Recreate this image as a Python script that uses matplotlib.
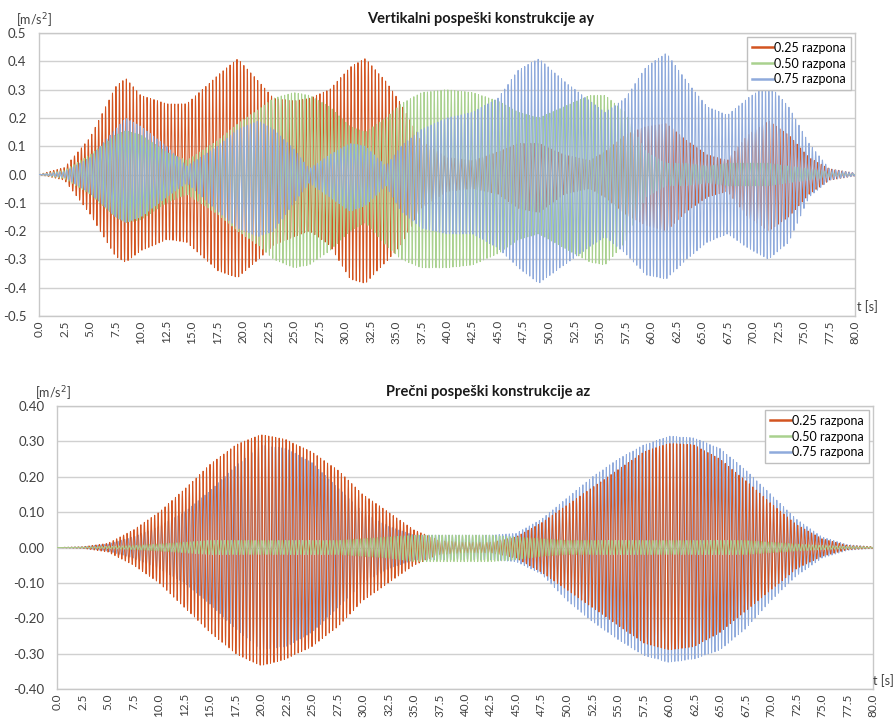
import numpy as np
import matplotlib.pyplot as plt
from matplotlib.ticker import MultipleLocator, FuncFormatter

plt.rcParams['font.family'] = ['Lato', 'DejaVu Sans']
plt.rcParams['axes.unicode_minus'] = False

labels = ['0.25 razpona', '0.50 razpona', '0.75 razpona']
colors = ['#D35420', '#A9D18E', '#8FAADC']
freqs = [2.95, 3.0, 3.05]   # nihajna frekvenca (Hz)

# Ovojnice vertikalnih pospeškov ay (čas v s, vrhovi v m/s2)
t_ay = np.array([0, 2.5, 5, 7.5, 8.5, 10, 12.5, 14.5, 17.5, 19.5, 21.5, 23, 25, 26.5,
                 28.5, 30.5, 32, 34, 35.5, 37.5, 40, 42.5, 45, 47, 49, 51.5, 54, 55.5,
                 57.5, 59.5, 61.5, 63.5, 65.5, 67.5, 69.5, 71.5, 73.5, 75.5, 77.5, 80])
ay_025_hi = [0, 0.025, 0.13, 0.31, 0.34, 0.28, 0.25, 0.25, 0.35, 0.41, 0.33, 0.27, 0.26, 0.27,
             0.30, 0.38, 0.41, 0.33, 0.25, 0.12, 0.06, 0.05, 0.08, 0.11, 0.11, 0.07, 0.05, 0.08,
             0.14, 0.17, 0.18, 0.12, 0.07, 0.05, 0.14, 0.19, 0.14, 0.06, 0.02, 0.005]
ay_025_lo = [0, -0.02, -0.14, -0.29, -0.31, -0.27, -0.23, -0.24, -0.34, -0.365, -0.30, -0.25, -0.22, -0.20,
             -0.25, -0.37, -0.385, -0.31, -0.25, -0.12, -0.06, -0.05, -0.07, -0.12, -0.135, -0.07, -0.05, -0.08,
             -0.14, -0.18, -0.20, -0.13, -0.08, -0.06, -0.15, -0.20, -0.15, -0.07, -0.02, -0.005]
ay_050_hi = [0, 0.015, 0.07, 0.14, 0.155, 0.14, 0.08, 0.05, 0.12, 0.18, 0.23, 0.27, 0.29, 0.28,
             0.24, 0.17, 0.15, 0.20, 0.25, 0.29, 0.30, 0.29, 0.26, 0.22, 0.20, 0.24, 0.28, 0.28,
             0.22, 0.08, 0.04, 0.04, 0.03, 0.04, 0.04, 0.04, 0.03, 0.02, 0.01, 0]
ay_050_lo = [0, -0.015, -0.07, -0.15, -0.17, -0.16, -0.10, -0.07, -0.14, -0.20, -0.25, -0.30, -0.33, -0.32,
             -0.27, -0.20, -0.17, -0.25, -0.30, -0.33, -0.33, -0.32, -0.28, -0.23, -0.21, -0.26, -0.31, -0.32,
             -0.24, -0.08, -0.04, -0.04, -0.03, -0.04, -0.04, -0.04, -0.03, -0.02, -0.01, 0]
ay_075_hi = [0, 0.01, 0.06, 0.16, 0.20, 0.17, 0.10, 0.03, 0.10, 0.16, 0.19, 0.16, 0.09, 0.02,
             0.07, 0.11, 0.10, 0.03, 0.10, 0.16, 0.20, 0.22, 0.27, 0.37, 0.41, 0.33, 0.26, 0.22,
             0.27, 0.38, 0.43, 0.33, 0.24, 0.21, 0.27, 0.32, 0.24, 0.11, 0.02, 0.005]
ay_075_lo = [0, -0.01, -0.066, -0.15, -0.17, -0.15, -0.08, -0.03, -0.13, -0.19, -0.22, -0.20, -0.10, -0.03,
             -0.08, -0.13, -0.11, -0.04, -0.13, -0.19, -0.21, -0.21, -0.26, -0.33, -0.385, -0.32, -0.255, -0.22,
             -0.28, -0.355, -0.37, -0.30, -0.24, -0.21, -0.26, -0.30, -0.24, -0.08, -0.02, -0.005]

# Ovojnice prečnih pospeškov az
t_az = np.arange(0, 80.1, 2.5)
az_025_hi = [0, 0.002, 0.012, 0.05, 0.10, 0.165, 0.235, 0.29, 0.32, 0.305, 0.27, 0.22, 0.15, 0.10,
             0.05, 0.02, 0.015, 0.015, 0.03, 0.07, 0.12, 0.17, 0.22, 0.27, 0.295, 0.29, 0.25, 0.19,
             0.125, 0.065, 0.025, 0.006, 0.002]
az_025_lo = [0, -0.002, -0.013, -0.05, -0.10, -0.17, -0.24, -0.30, -0.335, -0.315, -0.28, -0.225, -0.15, -0.10,
             -0.05, -0.02, -0.015, -0.015, -0.03, -0.07, -0.12, -0.17, -0.22, -0.27, -0.29, -0.28, -0.24, -0.18,
             -0.12, -0.06, -0.025, -0.006, -0.002]
az_050_hi = [0, 0.001, 0.003, 0.006, 0.01, 0.015, 0.02, 0.02, 0.02, 0.02, 0.02, 0.02, 0.025, 0.03,
             0.035, 0.035, 0.035, 0.035, 0.03, 0.025, 0.02, 0.02, 0.02, 0.02, 0.02, 0.02, 0.02, 0.02,
             0.015, 0.01, 0.006, 0.003, 0.001]
az_050_lo = [0, -0.001, -0.003, -0.006, -0.01, -0.015, -0.02, -0.02, -0.02, -0.02, -0.02, -0.02, -0.025, -0.03,
             -0.04, -0.04, -0.04, -0.04, -0.035, -0.025, -0.02, -0.02, -0.02, -0.02, -0.02, -0.02, -0.02, -0.02,
             -0.015, -0.01, -0.006, -0.003, -0.001]
az_075_hi = [0, 0.002, 0.01, 0.03, 0.06, 0.10, 0.16, 0.23, 0.29, 0.28, 0.24, 0.17, 0.10, 0.06,
             0.035, 0.035, 0.035, 0.035, 0.04, 0.08, 0.14, 0.20, 0.25, 0.29, 0.315, 0.31, 0.28, 0.22,
             0.15, 0.08, 0.03, 0.008, 0.002]
az_075_lo = [0, -0.002, -0.01, -0.03, -0.06, -0.10, -0.16, -0.23, -0.29, -0.28, -0.24, -0.17, -0.10, -0.06,
             -0.035, -0.035, -0.035, -0.035, -0.04, -0.075, -0.15, -0.21, -0.26, -0.305, -0.325, -0.315, -0.29, -0.23,
             -0.15, -0.08, -0.03, -0.008, -0.002]

t = np.arange(0, 80.0001, 0.01)


def odziv(t_knots, hi, lo, f):
    s = np.sin(2 * np.pi * f * t)
    up = np.interp(t, t_knots, hi)
    dn = np.interp(t, t_knots, lo)
    return np.where(s >= 0, s * up, -s * dn)


fig = plt.figure(figsize=(8.95, 7.19), dpi=100)
ax1 = fig.add_axes([0.0436, 0.5605, 0.9117, 0.3936])
ax2 = fig.add_axes([0.0637, 0.0417, 0.9117, 0.3936])

# zorder po seriji: zgoraj modra na vrhu, spodaj rdeča prek modre
panels = [
    (ax1, t_ay, [(ay_025_hi, ay_025_lo), (ay_050_hi, ay_050_lo), (ay_075_hi, ay_075_lo)],
     0.5, '{:.1f}', [2, 3, 4]),
    (ax2, t_az, [(az_025_hi, az_025_lo), (az_050_hi, az_050_lo), (az_075_hi, az_075_lo)],
     0.4, '{:.2f}', [3, 4, 2]),
]

for ax, tk, series, lim, fmt, zs in panels:
    for (hi, lo), lab, c, f, z in zip(series, labels, colors, freqs, zs):
        ax.plot(t, odziv(tk, hi, lo, f), color=c, lw=0.7, label=lab, zorder=z)
    ax.set_xlim(0, 80)
    ax.set_ylim(-lim, lim)
    ax.set_xticks(np.arange(0, 80.1, 2.5))
    ax.xaxis.set_major_formatter(FuncFormatter(lambda v, p: f'{v:.1f}'))
    ax.xaxis.set_minor_locator(MultipleLocator(5))
    ax.yaxis.set_major_locator(MultipleLocator(0.1))
    ax.yaxis.set_major_formatter(FuncFormatter(lambda v, p, fmt=fmt: fmt.format(v + 0.0)))
    ax.tick_params(axis='x', which='both', length=0, rotation=90, labelsize=8.5,
                   labelcolor='#404040', pad=3)
    ax.tick_params(axis='y', length=0, labelsize=9.5, labelcolor='#404040', pad=9)
    ax.grid(False)
    ax.grid(True, axis='x', which='minor', color='#D0D0D0', lw=1)
    ax.grid(True, axis='y', which='major', color='#D0D0D0', lw=1)
    ax.set_axisbelow(True)
    for sp in ax.spines.values():
        sp.set_color('#C8C8C8')
        sp.set_linewidth(1)
    leg = ax.legend(loc='upper right', fontsize=9, frameon=True, fancybox=False,
                    edgecolor='#BFBFBF', framealpha=1, handlelength=1.7, handletextpad=0.1,
                    borderpad=0.4, labelspacing=0.3, borderaxespad=0.3)
    leg.get_frame().set_linewidth(1)
    leg.set_zorder(10)
    for line in leg.get_lines():
        line.set_linewidth(1.8)

fig.text(0.537, 0.974, 'Vertikalni pospeški konstrukcije ay', ha='center', va='center',
         fontsize=10.5, fontweight='bold', color='#1a1a1a')
fig.text(0.545, 0.455, 'Prečni pospeški konstrukcije az', ha='center', va='center',
         fontsize=10.5, fontweight='bold', color='#1a1a1a')
fig.text(0.038, 0.971, '[m/s$^2$]', ha='center', va='center', fontsize=9, color='#404040')
fig.text(0.059, 0.453, '[m/s$^2$]', ha='center', va='center', fontsize=9, color='#404040')
fig.text(0.958, 0.573, 't [s]', ha='left', va='center', fontsize=9, color='#404040')
fig.text(0.975, 0.054, 't [s]', ha='left', va='center', fontsize=9, color='#404040')

fig.savefig('out.png', dpi=100)
